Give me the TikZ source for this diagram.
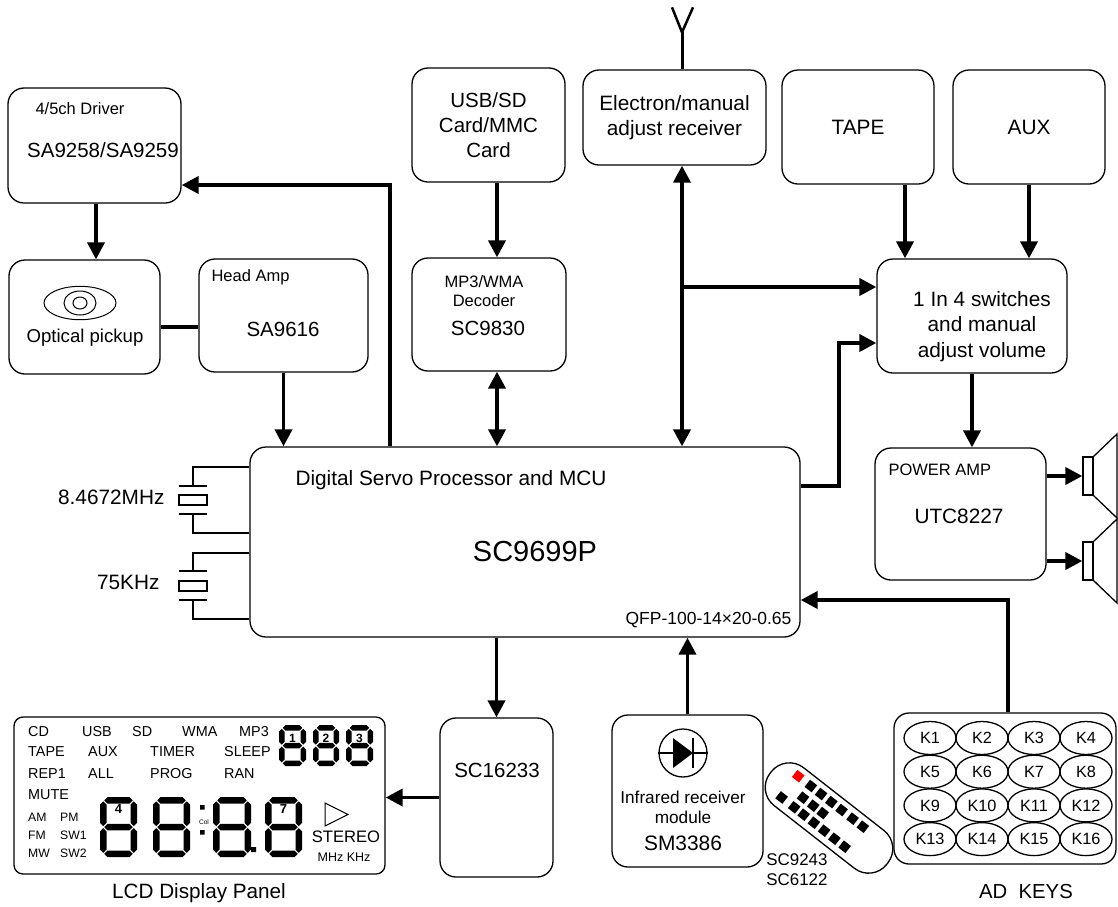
\documentclass[tikz,border=0pt]{standalone}
\usepackage{fontspec}
\setmainfont{Liberation Sans}
\usetikzlibrary{arrows.meta,shapes.geometric}

\newcommand{\fsz}[2]{\fontsize{#1}{#2}\selectfont}
% seven segment digit: left, top, width, height, bar thickness
\newcommand{\segdigit}[5]{%
  \begin{scope}[shift={(#1,#2)}]
    \pgfmathsetmacro{\dgW}{#3}%
    \pgfmathsetmacro{\dgH}{#4}%
    \pgfmathsetmacro{\dgM}{#5/2}%
    \pgfmathsetmacro{\dgE}{#4/2}%
    \pgfmathsetmacro{\dgA}{\dgM+1}%
    \pgfmathsetmacro{\dgB}{\dgE-1}%
    \pgfmathsetmacro{\dgC}{\dgE+1}%
    \pgfmathsetmacro{\dgD}{\dgH-\dgM-1}%
    \pgfmathsetmacro{\dgL}{\dgM+1}%
    \pgfmathsetmacro{\dgR}{\dgW-\dgM-1}%
    \foreach \hy in {\dgM,\dgE,\dgH-\dgM}
      \fill ({\dgL},{\hy}) -- ({\dgL+\dgM},{\hy-\dgM}) -- ({\dgR-\dgM},{\hy-\dgM})
         -- ({\dgR},{\hy}) -- ({\dgR-\dgM},{\hy+\dgM}) -- ({\dgL+\dgM},{\hy+\dgM}) -- cycle;
    \foreach \vx in {\dgM,\dgW-\dgM}
      \foreach \va/\vb in {\dgA/\dgB,\dgC/\dgD}
        \fill ({\vx},{\va}) -- ({\vx+\dgM},{\va+\dgM}) -- ({\vx+\dgM},{\vb-\dgM})
           -- ({\vx},{\vb}) -- ({\vx-\dgM},{\vb-\dgM}) -- ({\vx-\dgM},{\va+\dgM}) -- cycle;
  \end{scope}}

\begin{document}
\begin{tikzpicture}[
                 x = 1pt,
                 y = -1pt,
        blk/.style = {draw, line width=1.3pt, rounded corners=16pt, inner sep=0pt},
       fine/.style = {line width=1.3pt},
       wire/.style = {line width=3.8pt, -{Triangle[length=17pt,width=17pt]}},
    twoway/.style = {line width=3.8pt, {Triangle[length=17pt,width=17pt]}-{Triangle[length=17pt,width=17pt]}},
   plainwire/.style = {line width=3.8pt},
       kbtn/.style = {draw, ellipse, line width=1.3pt, minimum width=52pt,
                      minimum height=33pt, inner sep=0pt, font=\fsz{16.3}{18}},
                    ]
\useasboundingbox (0,0) rectangle (1118,906);

% top blocks
\node[blk, minimum width=173pt, minimum height=115pt] (drv) at (94.5,145.5) {};
\node[font=\fsz{16.5}{19}] (drvttl) at (80,109) {4/5ch Driver};
\node[font=\fsz{20.5}{24}] (drvic) at (103,150) {SA9258/SA9259};

\node[blk, minimum width=151pt, minimum height=114pt] (opt) at (84.5,317) {};
\draw[line width=1pt] (80,303) ellipse (36 and 16.7) (80,303) ellipse (16 and 12) (80,303) ellipse (7 and 6);
\node[font=\fsz{18.6}{22}] (optlbl) at (85,338) {Optical pickup};

\node[blk, minimum width=169pt, minimum height=113pt] (hamp) at (283.5,315.5) {};
\node[font=\fsz{16.5}{19}, anchor=west] (hampttl) at (208,277) {Head Amp};
\node[font=\fsz{20.5}{24}] (hampic) at (283,329) {SA9616};

\node[blk, minimum width=153pt, minimum height=114pt, align=center, font=\fsz{20.5}{25}] (usb) at (488.5,125) {USB/SD\\Card/MMC\\Card};

\node[blk, minimum width=154pt, minimum height=113pt] (mp3) at (489,314.5) {};
\node[font=\fsz{16.5}{19}, align=center] (mp3ttl) at (484,291.5) {MP3/WMA\\Decoder};
\node[font=\fsz{20.5}{24}] (mp3ic) at (488,328) {SC9830};

\node[blk, minimum width=183pt, minimum height=95pt, align=center, font=\fsz{20.8}{25}] (rcv) at (674.5,117.5) {Electron/manual\\adjust receiver};
\node[blk, minimum width=152pt, minimum height=114pt, font=\fsz{20.8}{25}] (tape) at (858,127) {TAPE};
\node[blk, minimum width=152pt, minimum height=114pt, font=\fsz{20.8}{25}] (aux) at (1029,127) {AUX};

\node[blk, minimum width=190pt, minimum height=114pt] (sw) at (972,316) {};
\node[font=\fsz{20.8}{25.5}, align=center] (swlbl) at (982,326.5) {1 In 4 switches\\and manual\\adjust volume};

% antenna
\coordinate (ant) at ([xshift=7.5pt]rcv.north);
\draw[line width=3pt] (ant) -- ++(0,-37) coordinate (antfork);
\draw[line width=2.5pt] (antfork) -- ++(-10,-25) (antfork) -- ++(11,-25);

% processor
\node[blk, minimum width=550pt, minimum height=190pt] (mcu) at (525,542) {};
\node[font=\fsz{20.8}{24}, anchor=west] (mcuttl) at (292,480) {Digital Servo Processor and MCU};
\node[font=\fsz{29}{34}] (mcuic) at (535,552) {SC9699P};
\node[font=\fsz{17.5}{20}, anchor=east] (mcupkg) at (795,620) {QFP-100-14×20-0.65};

% crystals
\node[draw, fine, minimum width=28pt, minimum height=10pt, inner sep=0pt] (xt1) at (193,500) {};
\draw[fine] (179,486) -- (207,486) (179,514) -- (207,514);
\draw[fine] (193,486) |- (mcu.west |- 0,467);
\draw[fine] (193,514) |- (mcu.west |- 0,533);
\node[font=\fsz{20.8}{24}, anchor=east] (xt1lbl) at (168,497) {8.4672MHz};
\node[draw, fine, minimum width=28pt, minimum height=10pt, inner sep=0pt] (xt2) at (193,586) {};
\draw[fine] (179,571) -- (207,571) (179,600) -- (207,600);
\draw[fine] (193,571) |- (mcu.west |- 0,553);
\draw[fine] (193,600) |- (mcu.west |- 0,619);
\node[font=\fsz{20.8}{24}, anchor=east] (xt2lbl) at (163,582) {75KHz};

% power amp and speakers
\node[blk, minimum width=171pt, minimum height=132pt] (pamp) at (960.5,514) {};
\node[font=\fsz{16.5}{19}, anchor=west] (pampttl) at (885,470) {POWER AMP};
\node[font=\fsz{20.8}{24}] (pampic) at (959,516) {UTC8227};
\node[draw, fine, minimum width=10pt, minimum height=38pt, inner sep=0pt] (spk1) at (1088,476) {};
\draw[fine] (spk1.north east) -- (1117,434) -- (1117,518) -- (spk1.south east);
\node[draw, fine, minimum width=10pt, minimum height=38pt, inner sep=0pt] (spk2) at (1088,561) {};
\draw[fine] (spk2.north east) -- (1117,519) -- (1117,603) -- (spk2.south east);

% bottom blocks
\node[blk, minimum width=113pt, minimum height=159pt] (seg) at (496.5,797.5) {};
\node[font=\fsz{20.5}{24}] (seglbl) at (497,770) {SC16233};

\node[blk, minimum width=151pt, minimum height=152pt] (ir) at (687.5,791) {};
\node[draw, circle, fine, minimum size=48pt, inner sep=0pt] (diode) at (683,753) {};
\draw[fine] (diode.west) -- (diode.east);
\fill (673,738) -- (673,768) -- (693,753) -- cycle;
\draw[line width=1.6pt] (693,738) -- (693,768);
\node[font=\fsz{17.2}{19.5}, align=center] (irttl) at (683,807.5) {Infrared receiver\\module};
\node[font=\fsz{20.9}{24}] (iric) at (683,843) {SM3386};

% remote
\begin{scope}[shift={(829,818)}, rotate=-38]
  \draw[fine, rounded corners=23pt] (-74,-24) rectangle (74,24);
  \fill[red] (-54.5,-18.5) rectangle (-45.5,-9.5);
  \foreach \u in {-34,-21,-8,5,19,32} \fill ({\u-4.5},-18.5) rectangle ({\u+4.5},-9.5);
  \foreach \u in {-33,-20,-8} \fill ({\u-4.5},-4.5) rectangle ({\u+4.5},4.5);
  \foreach \u in {-50,-34,-22,-9,4,17,30} \fill ({\u-4.5},8.5) rectangle ({\u+4.5},17.5);
\end{scope}
\node[font=\fsz{16.9}{20}, align=left] (remlbl) at (797,870) {SC9243\\SC6122};

% keys
\node[blk, rounded corners=15pt, minimum width=222pt, minimum height=151pt] (keys) at (1005,788.5) {};
\foreach \kr in {0,...,3}
  \foreach \kc in {1,...,4} {
    \pgfmathtruncatemacro{\kn}{\kr*4+\kc}
    \node[kbtn] (k\kn) at ({930+52*(\kc-1)},{738+33.7*\kr}) {K\kn};
  }
\node[font=\fsz{20.3}{24}] (keyslbl) at (1026,891) {AD\ \ KEYS};

% LCD panel
\node[blk, rounded corners=9pt, minimum width=371pt, minimum height=157pt] (lcd) at (199.5,795.5) {};
\node[font=\fsz{20.7}{24}] (lcdlbl) at (199,893) {LCD Display Panel};
\foreach \t/\x/\y in {CD/28/732, USB/82/732, SD/132/732, WMA/182/732, MP3/239/732,
                      TAPE/28/752, AUX/88/752, TIMER/150/752, SLEEP/224/752,
                      REP1/28/774, ALL/88/774, PROG/150/774, RAN/224/774, MUTE/28/795}
  \node[anchor=west, inner sep=0pt, font=\fsz{14.4}{16}] at (\x,\y) {\t};
\foreach \t/\x/\y in {AM/28/817, PM/60/817, FM/28/835, SW1/60/835, MW/28/853, SW2/60/853}
  \node[anchor=west, inner sep=0pt, font=\fsz{12.2}{14}] at (\x,\y) {\t};
\segdigit{279}{725}{27}{41}{5.5}
\segdigit{313}{725}{26}{41}{5.5}
\segdigit{346}{725}{27}{41}{5.5}
\segdigit{100}{797}{37}{60}{6.5}
\segdigit{153}{797}{37}{60}{6.5}
\segdigit{213}{797}{38}{60}{6.5}
\segdigit{265}{797}{37}{60}{6.5}
\foreach \n/\x/\y in {1/292.5/738, 2/326/738, 3/359.5/738}
  \node[font=\bfseries\fsz{12}{13}, inner sep=0pt] at (\x,\y) {\n};
\foreach \n/\x/\y in {4/118.5/809, 7/283.5/809}
  \node[font=\bfseries\fsz{13}{14}, inner sep=0pt] at (\x,\y) {\n};
\fill (200,805) rectangle (204.5,809.5) (200,830) rectangle (204.5,834.5) (251,847) rectangle (256,852);
\node[font=\fsz{6.5}{7}, inner sep=0pt] (colon) at (204,822) {Col};
\draw[line width=1pt] (325,803) -- (348,814.5) -- (325,826) -- cycle;
\node[font=\fsz{16.6}{19}] (stereo) at (346,837) {STEREO};
\node[font=\fsz{12.5}{14}] (units) at (344,857) {MHz KHz};

% connections
\coordinate (drvout) at ([xshift=1.5pt]drv.south);
\draw[wire] (drvout) -- (drvout |- opt.north);
\draw[plainwire] ([yshift=-10pt]opt.east) -- ([yshift=-10pt]opt.east -| hamp.west);
\draw[wire] (hamp.south) -- (hamp.south |- mcu.north);
\coordinate (mcuup) at ([xshift=-135pt]mcu.north);
\coordinate (drvin) at ([yshift=-39.5pt]drv.east);
\draw[wire] (mcuup) |- (drvin);
\coordinate (usbout) at ([xshift=8.5pt]usb.south);
\draw[wire] (usbout) -- (usbout |- mp3.north);
\coordinate (mp3out) at ([xshift=8pt]mp3.south);
\draw[twoway] (mp3out) -- (mp3out |- mcu.north);
\coordinate (rcvout) at ([xshift=7.5pt]rcv.south);
\draw[twoway] (rcvout) -- (rcvout |- mcu.north);
\coordinate (swin1) at ([yshift=29pt]sw.west);
\draw[wire] (swin1 -| rcvout) -- (swin1);
\coordinate (tapeout) at ([xshift=47pt]tape.south);
\draw[wire] (tapeout) -- (tapeout |- sw.north);
\draw[wire] (aux.south) -- (aux.south |- sw.north);
\coordinate (mcuout) at ([yshift=56pt]mcu.east);
\coordinate (swin2) at ([yshift=-27pt]sw.west);
\draw[wire] (mcuout) -- ++(38,0) |- (swin2);
\draw[wire] (sw.south) -- (sw.south |- pamp.north);
\draw[wire] ([yshift=38pt]pamp.east) -- ([yshift=38pt]pamp.east -| spk1.west);
\draw[wire] ([yshift=-47pt]pamp.east) -- ([yshift=-47pt]pamp.east -| spk2.west);
\coordinate (keyup) at ([xshift=3pt]keys.north);
\coordinate (mcuin) at ([yshift=-58pt]mcu.east);
\draw[wire] (keyup) |- (mcuin);
\draw[wire] (mcu.south -| seg.north) -- (seg.north);
\draw[wire] (ir.north) -- (ir.north |- mcu.south);
\draw[wire] (seg.west) -- (seg.west -| lcd.east);
\end{tikzpicture}
\end{document}
